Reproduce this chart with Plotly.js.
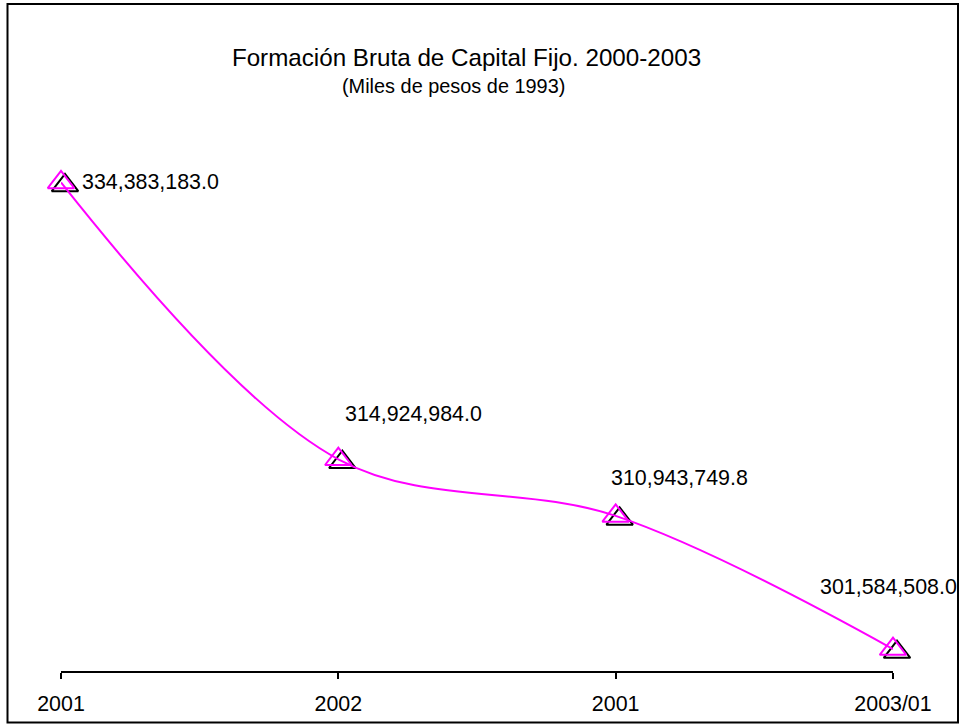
<!DOCTYPE html>
<html>
<head>
<meta charset="utf-8">
<script src="https://cdn.plot.ly/plotly-3.0.1.min.js"></script>
<style>html,body{margin:0;padding:0;background:#fff;}#chart{width:961px;height:725px;}</style>
</head>
<body>
<div id="chart"></div>
<script>
// ---- data ----
const periods = ['2001', '2002', '2001', '2003/01'];
const values = [334383183.0, 314924984.0, 310943749.8, 301584508.0];
const titleText = 'Formación Bruta de Capital Fijo. 2000-2003';
const subtitleText = '(Miles de pesos de 1993)';

// ---- helpers ----
function fmt(v) {
  const s = v.toFixed(1);
  const parts = s.split('.');
  const intPart = parts[0].replace(/\B(?=(\d{3})+(?!\d))/g, ',');
  return intPart + '.' + parts[1];
}
const W = 961, H = 725;
const FONT = 'Liberation Sans, Arial, sans-serif';
const pos = periods.map((p, i) => i);
const yRange = [300.04e6, 340.18e6];

// label placement (pixel shifts) — layout only
const labelShiftX = [19, 5, -7, -75];
const labelShiftY = [0, 45, 38, 62];

const traces = [
  { // black offset markers (shadow-like)
    x: pos, y: values, xaxis: 'x', yaxis: 'y', type: 'scatter', mode: 'markers',
    cliponaxis: false, hoverinfo: 'skip',
    marker: { symbol: 'triangle-up-open', size: 23, color: '#000000', line: { width: 2, color: '#000000' } }
  },
  { // magenta line + markers
    x: pos, y: values, xaxis: 'x2', yaxis: 'y2', type: 'scatter', mode: 'lines+markers',
    cliponaxis: false,
    line: { color: '#FF00FF', width: 2, shape: 'spline', smoothing: 1 },
    marker: { symbol: 'triangle-up-open', size: 23, color: '#FF00FF', line: { width: 2, color: '#FF00FF' } }
  }
];

const annotations = values.map((v, i) => ({
  xref: 'x2', yref: 'y2', x: pos[i], y: v, text: fmt(v), showarrow: false,
  xanchor: 'left', yanchor: 'middle', xshift: labelShiftX[i], yshift: labelShiftY[i],
  font: { family: FONT, size: 21.4, color: '#000000' }
}));
annotations.push({
  xref: 'paper', yref: 'paper', x: 453.5 / W, y: 1 - 86 / H, text: subtitleText, showarrow: false,
  xanchor: 'center', yanchor: 'middle', font: { family: FONT, size: 19.9, color: '#000000' }
});

const layout = {
  width: W, height: H,
  margin: { l: 0, r: 0, t: 0, b: 0, pad: 0 },
  paper_bgcolor: '#ffffff', plot_bgcolor: 'rgba(0,0,0,0)',
  showlegend: false,
  title: {
    text: titleText, xref: 'container', yref: 'container',
    x: 466.5 / W, y: 1 - 57.5 / H, xanchor: 'center', yanchor: 'middle',
    font: { family: FONT, size: 24.2, color: '#000000' }
  },
  xaxis: { domain: [65 / W, 897 / W], range: [0, 3], visible: false, anchor: 'y', fixedrange: true },
  yaxis: { domain: [1 - 674 / H, 1 - 103 / H], range: yRange, visible: false, anchor: 'x', fixedrange: true },
  xaxis2: {
    domain: [61 / W, 893 / W], range: [0, 3], anchor: 'y2',
    tickmode: 'array', tickvals: pos, ticktext: periods,
    ticks: 'outside', ticklen: 6, tickwidth: 2, tickcolor: '#000000',
    ticklabelstandoff: 6,
    showline: true, linewidth: 2, linecolor: '#000000',
    showgrid: false, zeroline: false,
    tickfont: { family: FONT, size: 21.4, color: '#000000' }
  },
  yaxis2: {
    domain: [1 - 671 / H, 1 - 100 / H], range: yRange, anchor: 'x2',
    visible: false, showgrid: false, zeroline: false
  },
  annotations: annotations,
  shapes: [{
    type: 'rect', xref: 'paper', yref: 'paper',
    x0: 7.5 / W, x1: 958 / W, y0: 1 - 722.5 / H, y1: 1 - 4 / H,
    line: { color: '#000000', width: 2 }, fillcolor: 'rgba(0,0,0,0)'
  }]
};

Plotly.newPlot('chart', traces, layout, { displayModeBar: false, staticPlot: true });
</script>
</body>
</html>
